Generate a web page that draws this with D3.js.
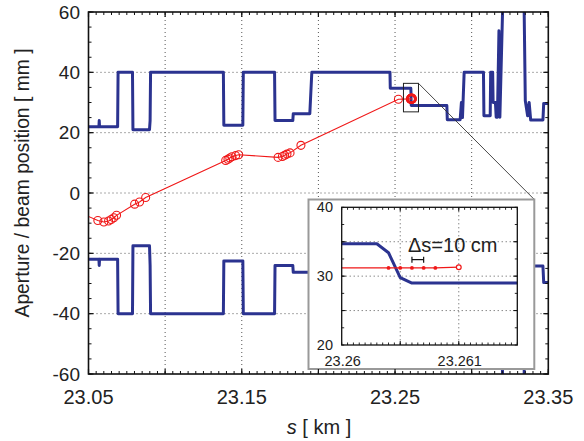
<!DOCTYPE html>
<html>
<head>
<meta charset="utf-8">
<script src="https://cdn.jsdelivr.net/npm/d3@7"></script>
<style>
  body { margin: 0; background: #fff; }
  text { font-family: "Liberation Sans", Arial, Helvetica, sans-serif; fill: #222; }
</style>
</head>
<body>
<div id="chart"></div>
<script>
// aperture (mm) vs s (km), upper and lower edge share the same s points
const apS = [23.0500, 23.0568, 23.0570, 23.0572, 23.0690, 23.0693, 23.0787, 23.0790, 23.0898, 23.0902,
  23.0905, 23.1380, 23.1383, 23.1507, 23.1510, 23.1714, 23.1717, 23.1833, 23.1836, 23.1944,
  23.1957, 23.2467, 23.2469, 23.2603, 23.2604, 23.2605, 23.2606, 23.2838, 23.2841, 23.2925,
  23.2933, 23.2940, 23.2951, 23.3077, 23.3080, 23.3121, 23.3124, 23.3137, 23.3140, 23.3155,
  23.3160, 23.3168, 23.3178, 23.3184, 23.3209, 23.3225, 23.3335, 23.3350, 23.3365, 23.3375,
  23.3385, 23.3465, 23.3470, 23.3500];
const apUpper = [22, 22, 24, 22, 22, 40, 40, 21, 21, 24,
  40, 40, 22.5, 22.5, 40, 40, 24, 24, 26.3, 26.3,
  40, 40, 34.7, 34.7, 33.4, 29.8, 29.0, 29.0, 24.3, 24.3,
  30, 25, 40, 40, 25.6, 25.6, 40, 40, 30, 30,
  25.1, 25.1, 53.8, 25.1, 75, 90, 90, 30.6, 25.6, 30,
  24.2, 24.2, 29.7, 29.7];
const apLower = [-22, -22, -24, -22, -22, -40, -40, -17.5, -17.5, -24,
  -40, -40, -22.5, -22.5, -40, -40, -24, -24, -26.3, -26.3,
  -40, -40, -34.7, -34.7, -33.4, -29.8, -29.0, -29.0, -24.3, -24.3,
  -30, -25, -40, -40, -25.6, -25.6, -40, -40, -30, -30,
  -25.1, -25.1, -53.8, -25.1, -75, -90, -90, -30.6, -25.6, -30,
  -24.2, -24.2, -29.7, -29.7];

// beam position (mm)
const beamS = [23.0450, 23.0561, 23.0600, 23.0631, 23.0648, 23.0665, 23.0683, 23.0801, 23.0833, 23.0873,
  23.1395, 23.1410, 23.1422, 23.1436, 23.1460, 23.1480, 23.1737, 23.1765, 23.1780, 23.1795,
  23.1815, 23.1886, 23.2522, 23.2604, 23.2605, 23.2606, 23.2607, 23.2608, 23.2610];
const beamPos = [-6.7, -9.1, -9.6, -9.3, -8.8, -8.2, -7.4, -3.7, -3.0, -1.5,
  10.8, 11.2, 11.6, 12.0, 12.4, 12.7, 11.8, 12.1, 12.5, 12.9,
  13.3, 15.8, 31.1, 31.2, 31.2, 31.2, 31.2, 31.2, 31.3];

// zoom window shown in the inset (s range, mm range) and the 10 cm marker
const zoomBoxS = [23.2555, 23.2653];
const zoomBoxV = [26.9, 36.35];
const deltaS = [23.2606, 23.2607];
const deltaV = 32.4;

const xLabels = [23.05, 23.15, 23.25, 23.35];
const yLabels = [-60, -40, -20, 0, 20, 40, 60];
const insetXLabels = [23.26, 23.261];
const insetYLabels = [20, 30, 40];

const width = 584, height = 441;
const blue = "#2b3390", red = "#f01818";

const svg = d3.select("#chart").append("svg")
  .attr("width", width).attr("height", height);

const x = d3.scaleLinear().domain([23.05, 23.35]).range([88.5, 548.3]);
const y = d3.scaleLinear().domain([-60, 60]).range([374, 12]);

const defs = svg.append("defs");
defs.append("clipPath").attr("id", "clipMain").append("rect")
  .attr("x", 88.5).attr("y", 12).attr("width", 548.3 - 88.5).attr("height", 374 - 12);

// grid
const grid = svg.append("g").attr("stroke", "#555").attr("stroke-width", 1).attr("stroke-dasharray", "1,3");
const xGrid = d3.range(1, 6).map(i => 23.05 + i * 0.05);
grid.selectAll(".gx").data(xGrid).join("line")
  .attr("x1", d => x(d)).attr("x2", d => x(d)).attr("y1", 12).attr("y2", 374);
grid.selectAll(".gy").data(yLabels.slice(1, -1)).join("line")
  .attr("y1", d => y(d)).attr("y2", d => y(d)).attr("x1", 88.5).attr("x2", 548.3);

const plot = svg.append("g").attr("clip-path", "url(#clipMain)");

const apLine = (vals, xs, ys) => d3.line().x((d, i) => xs(apS[i])).y(d => ys(d))(vals);
plot.append("path").attr("d", apLine(apUpper, x, y))
  .attr("fill", "none").attr("stroke", blue).attr("stroke-width", 3).attr("stroke-linejoin", "round");
plot.append("path").attr("d", apLine(apLower, x, y))
  .attr("fill", "none").attr("stroke", blue).attr("stroke-width", 3).attr("stroke-linejoin", "round");

const beamLine = (xs, ys) => d3.line().x((d, i) => xs(beamS[i])).y(d => ys(d))(beamPos);
plot.append("path").attr("d", beamLine(x, y))
  .attr("fill", "none").attr("stroke", red).attr("stroke-width", 1.1);
plot.selectAll(".bc").data(beamPos).join("circle")
  .attr("cx", (d, i) => x(beamS[i])).attr("cy", d => y(d)).attr("r", 4)
  .attr("fill", "none").attr("stroke", red)
  .attr("stroke-width", (d, i) => beamS[i] > 23.26 ? 2.2 : 1.1);

// zoom box + connector
svg.append("rect")
  .attr("x", x(zoomBoxS[0])).attr("y", y(zoomBoxV[1]))
  .attr("width", x(zoomBoxS[1]) - x(zoomBoxS[0])).attr("height", y(zoomBoxV[0]) - y(zoomBoxV[1]))
  .attr("fill", "none").attr("stroke", "#222").attr("stroke-width", 1);

const inset = { x0: 308.5, y0: 199.5, x1: 534.3, y1: 369 };
svg.append("line")
  .attr("x1", x(zoomBoxS[1])).attr("y1", y(zoomBoxV[1]))
  .attr("x2", inset.x1).attr("y2", inset.y0)
  .attr("stroke", "#333").attr("stroke-width", 0.9);

// ticks helper (inward on all four sides)
function boxTicks(g, xs, ys, xv, yv, len, w) {
  const [xa, xb] = xs.range(), [ya, yb] = ys.range();
  const t = g.append("g").attr("stroke", "#111").attr("stroke-width", w);
  t.selectAll(".tb").data(xv).join("line")
    .attr("x1", d => xs(d)).attr("x2", d => xs(d)).attr("y1", ya).attr("y2", ya - len);
  t.selectAll(".tt").data(xv).join("line")
    .attr("x1", d => xs(d)).attr("x2", d => xs(d)).attr("y1", yb).attr("y2", yb + len);
  t.selectAll(".tl").data(yv).join("line")
    .attr("y1", d => ys(d)).attr("y2", d => ys(d)).attr("x1", xa).attr("x2", xa + len);
  t.selectAll(".tr").data(yv).join("line")
    .attr("y1", d => ys(d)).attr("y2", d => ys(d)).attr("x1", xb).attr("x2", xb - len);
}

// inset
const ig = svg.append("g");
ig.append("rect").attr("x", inset.x0).attr("y", inset.y0)
  .attr("width", inset.x1 - inset.x0).attr("height", inset.y1 - inset.y0)
  .attr("fill", "#fff").attr("stroke", "#999").attr("stroke-width", 2);

const x2 = d3.scaleLinear().domain([23.26, 23.2615]).range([341.7, 517.3]);
const y2 = d3.scaleLinear().domain([20, 40]).range([345, 207.3]);
defs.append("clipPath").attr("id", "clipInset").append("rect")
  .attr("x", 341.7).attr("y", 207.3).attr("width", 517.3 - 341.7).attr("height", 345 - 207.3);

const igrid = ig.append("g").attr("stroke", "#555").attr("stroke-width", 1).attr("stroke-dasharray", "1,3");
igrid.selectAll(".gx").data([23.2605, 23.261]).join("line")
  .attr("x1", d => x2(d)).attr("x2", d => x2(d)).attr("y1", 207.3).attr("y2", 345);
igrid.selectAll(".gy").data([25, 30, 35]).join("line")
  .attr("y1", d => y2(d)).attr("y2", d => y2(d)).attr("x1", 341.7).attr("x2", 517.3);

const iplot = ig.append("g").attr("clip-path", "url(#clipInset)");
iplot.append("path").attr("d", apLine(apUpper, x2, y2))
  .attr("fill", "none").attr("stroke", blue).attr("stroke-width", 3).attr("stroke-linejoin", "round");
iplot.append("path").attr("d", beamLine(x2, y2))
  .attr("fill", "none").attr("stroke", red).attr("stroke-width", 1.3);
const last = beamS.length - 1;
iplot.selectAll(".dot").data(beamPos.slice(23, last)).join("circle")
  .attr("cx", (d, i) => x2(beamS[23 + i])).attr("cy", d => y2(d)).attr("r", 1.9)
  .attr("fill", red);
iplot.append("circle").attr("cx", x2(beamS[last])).attr("cy", y2(beamPos[last])).attr("r", 2.4)
  .attr("fill", "#fff").attr("stroke", red).attr("stroke-width", 1.2);

// 10 cm marker
const dm = ig.append("g").attr("stroke", "#111").attr("stroke-width", 1.2);
dm.append("line").attr("x1", x2(deltaS[0])).attr("x2", x2(deltaS[1])).attr("y1", y2(deltaV)).attr("y2", y2(deltaV));
dm.selectAll(".cap").data(deltaS).join("line")
  .attr("x1", d => x2(d)).attr("x2", d => x2(d)).attr("y1", y2(deltaV) - 3).attr("y2", y2(deltaV) + 3);
ig.append("text").attr("x", 408).attr("y", 251.5).attr("font-size", 20).text("Δs=10 cm");

ig.append("rect").attr("x", 341.7).attr("y", 207.3).attr("width", 517.3 - 341.7).attr("height", 345 - 207.3)
  .attr("fill", "none").attr("stroke", "#111").attr("stroke-width", 1.3);
boxTicks(ig, x2, y2, d3.range(31).map(i => 23.26 + i * 0.00005), d3.range(9).map(i => 20 + i * 2.5), 2.5, 0.9);
boxTicks(ig, x2, y2, [23.2605, 23.261], [25, 30, 35], 4, 1);
ig.selectAll(".ixl").data(insetXLabels).join("text")
  .attr("x", d => x2(d) + 1).attr("y", 366).attr("text-anchor", "middle").attr("font-size", 14.5)
  .text(d => String(d));
ig.selectAll(".iyl").data(insetYLabels).join("text")
  .attr("x", 333).attr("y", d => y2(d) + 5).attr("text-anchor", "end").attr("font-size", 14.5)
  .text(d => String(d));

// main axes box, ticks, labels
svg.append("rect").attr("x", 88.5).attr("y", 12).attr("width", 548.3 - 88.5).attr("height", 374 - 12)
  .attr("fill", "none").attr("stroke", "#111").attr("stroke-width", 1.6);
boxTicks(svg, x, y, d3.range(61).map(i => 23.05 + i * 0.005), d3.range(-60, 61, 5), 3, 1);
boxTicks(svg, x, y, d3.range(7).map(i => 23.05 + i * 0.05), yLabels, 5, 1.2);

svg.selectAll(".xl").data(xLabels).join("text")
  .attr("x", d => x(d)).attr("y", 404).attr("text-anchor", "middle").attr("font-size", 20)
  .text(d => d.toFixed(2));
svg.selectAll(".yl").data(yLabels).join("text")
  .attr("x", 80).attr("y", d => y(d) + 6.5).attr("text-anchor", "end").attr("font-size", 19)
  .text(d => String(d));

const xt = svg.append("text").attr("x", 319).attr("y", 434).attr("text-anchor", "middle").attr("font-size", 20);
xt.append("tspan").attr("font-style", "italic").text("s");
xt.append("tspan").text(" [ km ]");

svg.append("text").attr("transform", "translate(29,183) rotate(-90)")
  .attr("text-anchor", "middle").attr("font-size", 19.3)
  .text("Aperture / beam position [ mm ]");
</script>
</body>
</html>
